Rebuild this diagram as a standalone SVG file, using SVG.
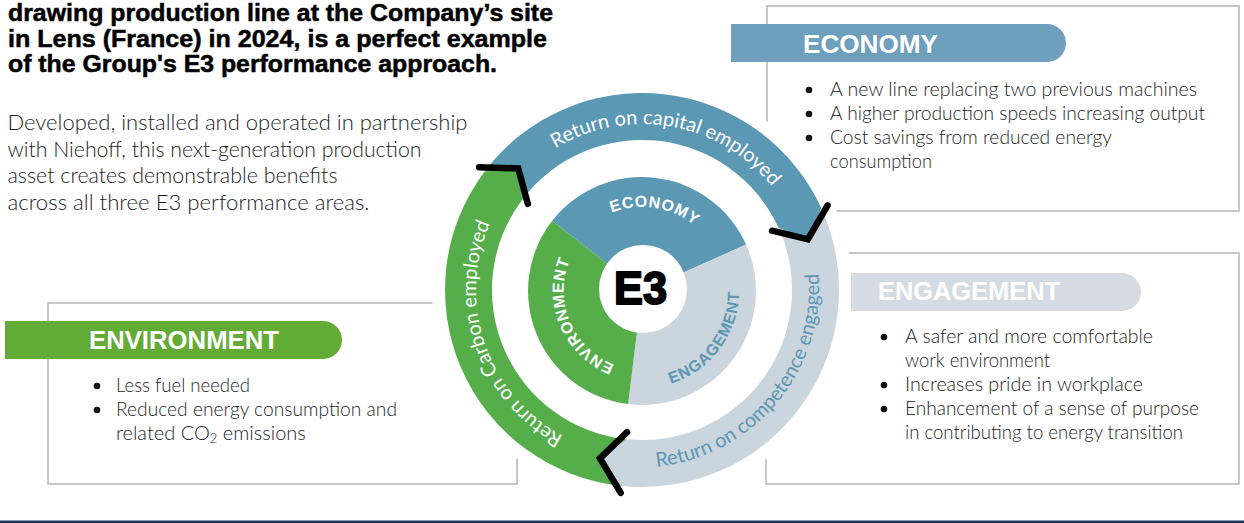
<svg xmlns="http://www.w3.org/2000/svg" xmlns:xlink="http://www.w3.org/1999/xlink" width="1244" height="523" viewBox="0 0 1244 523">
<style>
.title{font-family:"Liberation Sans",Arial,sans-serif;font-weight:700;font-size:23px;fill:#000;stroke:#000;stroke-width:0.5}
.body{font-family:Lato,"Liberation Sans",sans-serif;font-weight:300;font-size:22px;fill:#1e1e1e}
.bul{font-family:Lato,"Liberation Sans",sans-serif;font-weight:300;font-size:20px;fill:#1e1e1e}
.dot{fill:#111}
.box{fill:none;stroke:#b0b0b0;stroke-width:1.4}
.hdr{font-family:"Liberation Sans",Arial,sans-serif;font-weight:700;font-size:26px;fill:#fff}
.ringtxt{font-family:Lato,"Liberation Sans",sans-serif;font-weight:400;font-size:20px}
.pietxt{font-family:"Liberation Sans",Arial,sans-serif;font-weight:700;font-size:16px;letter-spacing:0.8px}
.chev{fill:none;stroke:#000;stroke-width:6.5;stroke-linecap:round;stroke-linejoin:miter}
</style>
<defs>
<path id="pCap" d="M478.5,261.2 A166,166 0 0 1 805.5,318.8"/>
<path id="pCarb" d="M696,447 A166,166 0 0 1 588,133"/>
<path id="pComp" d="M525.7,428.6 A181,181 0 0 0 758.3,151.4"/>
<path id="pEco" d="M559,277.9 A84,84 0 0 1 725,304.1"/>
<path id="pEnv" d="M673.3,364.6 A80,80 0 0 1 610.7,217.4"/>
<path id="pEng" d="M584.3,369 A97,97 0 0 0 699.7,213"/>
</defs>
<rect width="1244" height="523" fill="#fff"/>

<g id="title">
<text class="title" x="8" y="21" textLength="545" lengthAdjust="spacingAndGlyphs">drawing production line at the Company’s site</text>
<text class="title" x="8" y="46.7" textLength="539" lengthAdjust="spacingAndGlyphs">in Lens (France) in 2024, is a perfect example</text>
<text class="title" x="8" y="72.3" textLength="489" lengthAdjust="spacingAndGlyphs">of the Group's E3 performance approach.</text>
</g>

<g id="intro">
<text class="body" x="7.5" y="130" textLength="460" lengthAdjust="spacingAndGlyphs">Developed, installed and operated in partnership</text>
<text class="body" x="7.5" y="156.7" textLength="414" lengthAdjust="spacingAndGlyphs">with Niehoff, this next-generation production</text>
<text class="body" x="7.5" y="183.3" textLength="330" lengthAdjust="spacingAndGlyphs">asset creates demonstrable benefits</text>
<text class="body" x="7.5" y="210" textLength="362" lengthAdjust="spacingAndGlyphs">across all three E3 performance areas.</text>
</g>

<g id="economy-box">
<rect class="box" x="767" y="6" width="472" height="205"/>
</g>
<g id="engagement-box">
<rect class="box" x="766" y="253" width="473" height="231"/>
</g>
<g id="environment-box">
<rect class="box" x="48" y="303" width="469" height="181"/>
</g>

<g id="ring">
<circle cx="642" cy="290" r="210" fill="#fff"/>
<path id="seg-capital" d="M484.7,171.4 A197,197 0 0 1 821.3,208.3 L807.9,239.3 L778.5,227.8 A150,150 0 0 0 522.2,199.7 L518.2,168.4 Z" fill="#5b98b3"/>
<path id="seg-competence" d="M821.3,208.3 A197,197 0 0 1 621.4,485.9 L600,458.3 L626.3,439.2 A150,150 0 0 0 778.5,227.8 L807.9,239.3 Z" fill="#cbd5dd"/>
<path id="seg-carbon" d="M621.4,485.9 A197,197 0 0 1 484.7,171.4 L518.2,168.4 L522.2,199.7 A150,150 0 0 0 626.3,439.2 L600,458.3 Z" fill="#55ae4a"/>
<text class="ringtxt" fill="#fff"><textPath xlink:href="#pCap" href="#pCap" startOffset="50%" text-anchor="middle">Return on capital employed</textPath></text>
<text class="ringtxt" fill="#fff"><textPath xlink:href="#pCarb" href="#pCarb" startOffset="50%" text-anchor="middle">Return on Carbon employed</textPath></text>
<text class="ringtxt" fill="#5b97b5"><textPath xlink:href="#pComp" href="#pComp" startOffset="50%" text-anchor="middle">Return on competence engaged</textPath></text>
</g>

<g id="connectors">
<polyline class="chev" points="479.1,167.2 518.2,168.4 527.8,203.9"/>
<polyline class="chev" points="772.1,230.7 807.9,239.3 827.6,205.4"/>
<polyline class="chev" points="627.1,432.2 600,458.3 620.7,492.9"/>
</g>

<g id="pie">
<path id="sec-economy" d="M642,291 L552.2,220.8 A114,114 0 0 1 746.1,244.6 Z" fill="#5b98b3"/>
<path id="sec-engagement" d="M642,291 L746.1,244.6 A114,114 0 0 1 628.1,404.1 Z" fill="#cbd5dd"/>
<path id="sec-environment" d="M642,291 L628.1,404.1 A114,114 0 0 1 552.2,220.8 Z" fill="#55ae4a"/>
<text class="pietxt" fill="#fff"><textPath xlink:href="#pEco" href="#pEco" startOffset="50%" text-anchor="middle">ECONOMY</textPath></text>
<text class="pietxt" fill="#fff"><textPath xlink:href="#pEnv" href="#pEnv" startOffset="50%" text-anchor="middle">ENVIRONMENT</textPath></text>
<text class="pietxt" fill="#5b97b5"><textPath xlink:href="#pEng" href="#pEng" startOffset="50%" text-anchor="middle">ENGAGEMENT</textPath></text>
</g>

<g id="e3">
<circle cx="643" cy="289" r="44" fill="#fff"/>
<text x="640.5" y="304" text-anchor="middle" font-family="Liberation Sans, Arial, sans-serif" font-weight="900" font-size="46" fill="#000" stroke="#000" stroke-width="2" stroke-linejoin="round" textLength="53" lengthAdjust="spacingAndGlyphs">E3</text>
</g>

<g id="economy-header">
<path d="M731,24 H1047 A19,19 0 0 1 1047,62 H731 Z" fill="#6e9fbd"/>
<text class="hdr" x="803" y="53" textLength="135" lengthAdjust="spacingAndGlyphs">ECONOMY</text>
</g>
<g id="economy-list">
<circle class="dot" cx="809" cy="90" r="3.3"/>
<circle class="dot" cx="809" cy="114" r="3.3"/>
<circle class="dot" cx="809" cy="138" r="3.3"/>
<text class="bul" x="830" y="96" textLength="367" lengthAdjust="spacingAndGlyphs">A new line replacing two previous machines</text>
<text class="bul" x="830" y="120" textLength="375" lengthAdjust="spacingAndGlyphs">A higher production speeds increasing output</text>
<text class="bul" x="830" y="144" textLength="282" lengthAdjust="spacingAndGlyphs">Cost savings from reduced energy</text>
<text class="bul" x="830" y="168" textLength="102" lengthAdjust="spacingAndGlyphs">consumption</text>
</g>

<g id="engagement-header">
<path d="M851,273 H1122 A19,19 0 0 1 1122,311 H851 Z" fill="#d4dbe2"/>
<text class="hdr" x="878" y="300" textLength="182" lengthAdjust="spacingAndGlyphs">ENGAGEMENT</text>
</g>
<g id="engagement-list">
<circle class="dot" cx="884" cy="337" r="3.3"/>
<circle class="dot" cx="884" cy="385" r="3.3"/>
<circle class="dot" cx="884" cy="409" r="3.3"/>
<text class="bul" x="905" y="343" textLength="248" lengthAdjust="spacingAndGlyphs">A safer and more comfortable</text>
<text class="bul" x="905" y="367" textLength="145" lengthAdjust="spacingAndGlyphs">work environment</text>
<text class="bul" x="905" y="391" textLength="238" lengthAdjust="spacingAndGlyphs">Increases pride in workplace</text>
<text class="bul" x="905" y="415" textLength="294" lengthAdjust="spacingAndGlyphs">Enhancement of a sense of purpose</text>
<text class="bul" x="905" y="439" textLength="278" lengthAdjust="spacingAndGlyphs">in contributing to energy transition</text>
</g>

<g id="environment-header">
<path d="M5,321 H323 A19,19 0 0 1 323,359 H5 Z" fill="#62ac35"/>
<text class="hdr" x="89" y="349" textLength="190" lengthAdjust="spacingAndGlyphs">ENVIRONMENT</text>
</g>
<g id="environment-list">
<circle class="dot" cx="97" cy="386" r="3.3"/>
<circle class="dot" cx="97" cy="410" r="3.3"/>
<text class="bul" x="116" y="392" textLength="134" lengthAdjust="spacingAndGlyphs">Less fuel needed</text>
<text class="bul" x="116" y="416" textLength="281" lengthAdjust="spacingAndGlyphs">Reduced energy consumption and</text>
<text class="bul" x="116" y="440">related CO<tspan font-size="13" dy="3">2</tspan><tspan dy="-3"> emissions</tspan></text>
</g>

<rect id="footer-rule" x="0" y="520.5" width="1244" height="2.5" fill="#1b365d"/>
</svg>
